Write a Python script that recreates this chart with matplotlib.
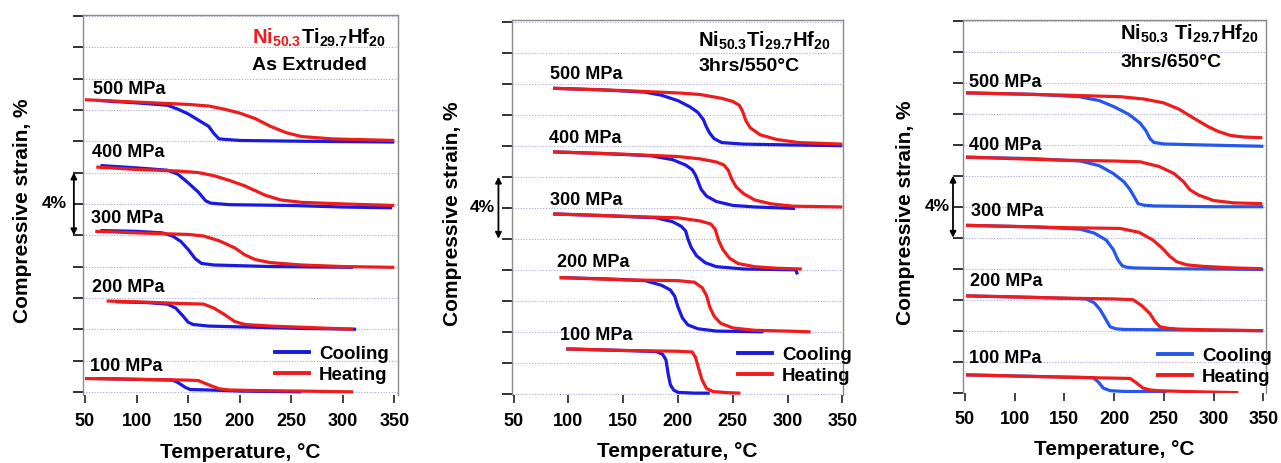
import matplotlib.pyplot as plt
from matplotlib.lines import Line2D

plt.rcParams['font.family'] = ['Liberation Sans', 'DejaVu Sans']
plt.rcParams['font.weight'] = 'bold'
plt.rcParams['mathtext.fontset'] = 'custom'
plt.rcParams['mathtext.rm'] = 'Liberation Sans:bold'
plt.rcParams['mathtext.bf'] = 'Liberation Sans:bold'
plt.rcParams['mathtext.it'] = 'Liberation Sans:bold'

# data: temperature (C) -> compressive strain (%), curves offset per stress
pressures = [500, 400, 300, 200, 100]

# as extruded
ext_cool = {
    500: ([64, 100, 130, 140, 150, 160, 170, 175, 180, 200, 260, 350],
          [18.6, 18.45, 18.3, 18.05, 17.75, 17.35, 16.95, 16.5, 16.15, 16.05, 16.0, 15.95]),
    400: ([65, 100, 130, 140, 150, 160, 167, 172, 190, 250, 300, 348],
          [14.45, 14.3, 14.15, 13.9, 13.35, 12.75, 12.2, 12.05, 11.95, 11.9, 11.8, 11.75]),
    300: ([65, 100, 125, 135, 143, 150, 157, 163, 175, 230, 310],
          [10.3, 10.25, 10.15, 9.95, 9.6, 9.1, 8.5, 8.2, 8.1, 8.0, 7.95]),
    200: ([80, 110, 130, 138, 145, 150, 155, 170, 200, 260, 313],
          [5.75, 5.7, 5.6, 5.35, 4.85, 4.45, 4.3, 4.2, 4.15, 4.05, 4.0]),
    100: ([62, 100, 135, 140, 147, 152, 170, 200, 260],
          [0.85, 0.8, 0.75, 0.6, 0.3, 0.15, 0.12, 0.05, 0.0]),
}
ext_heat = {
    500: ([50, 100, 150, 170, 185, 200, 215, 230, 245, 260, 290, 350],
          [18.65, 18.5, 18.35, 18.25, 18.05, 17.8, 17.45, 16.95, 16.55, 16.3, 16.15, 16.05]),
    400: ([61, 100, 140, 160, 175, 190, 205, 215, 225, 240, 260, 300, 350],
          [14.35, 14.2, 14.1, 14.0, 13.8, 13.5, 13.15, 12.85, 12.55, 12.25, 12.1, 12.0, 11.9]),
    300: ([60, 100, 150, 165, 180, 195, 205, 215, 230, 260, 300, 350],
          [10.25, 10.15, 10.05, 9.95, 9.65, 9.2, 8.75, 8.45, 8.25, 8.1, 8.0, 7.95]),
    200: ([71, 100, 140, 165, 175, 185, 195, 205, 230, 270, 310],
          [5.8, 5.75, 5.65, 5.6, 5.35, 4.95, 4.5, 4.3, 4.2, 4.1, 4.0]),
    100: ([50, 100, 150, 160, 170, 180, 190, 220, 260, 310],
          [0.85, 0.8, 0.75, 0.72, 0.45, 0.2, 0.12, 0.08, 0.05, 0.0]),
}

# 3 hrs / 550 C
t550_cool = {
    500: ([86, 130, 170, 185, 200, 211, 218, 223, 226, 229, 233, 240, 260, 300, 350],
          [19.7, 19.6, 19.45, 19.25, 18.9, 18.5, 18.15, 17.7, 17.2, 16.8, 16.45, 16.2, 16.1, 16.05, 16.0]),
    400: ([86, 130, 175, 195, 207, 213, 216, 218, 221, 226, 235, 250, 270, 307],
          [15.6, 15.5, 15.35, 15.1, 14.75, 14.45, 14.1, 13.75, 13.2, 12.75, 12.4, 12.15, 12.05, 11.95]),
    300: ([86, 130, 180, 195, 203, 207, 209, 212, 217, 225, 235, 260, 307, 308, 309],
          [11.6, 11.5, 11.35, 11.1, 10.8, 10.5, 10.0, 9.45, 8.9, 8.45, 8.2, 8.05, 8.0, 7.9, 7.7]),
    200: ([92, 140, 170, 185, 193, 197, 200, 204, 209, 218, 235, 278],
          [7.5, 7.4, 7.3, 7.0, 6.7, 6.3, 5.6, 4.9, 4.45, 4.2, 4.05, 4.0]),
    100: ([98, 150, 180, 186, 189, 191, 193, 196, 200, 215, 229],
          [2.9, 2.8, 2.73, 2.55, 2.2, 1.3, 0.6, 0.25, 0.1, 0.05, 0.05]),
}
t550_heat = {
    500: ([86, 150, 200, 220, 240, 250, 256, 259, 262, 266, 275, 290, 310, 350],
          [19.7, 19.55, 19.4, 19.3, 19.05, 18.85, 18.6, 18.2, 17.6, 17.15, 16.7, 16.4, 16.2, 16.1]),
    400: ([86, 150, 200, 220, 235, 242, 246, 249, 253, 260, 270, 285, 305, 350],
          [15.6, 15.45, 15.3, 15.15, 14.95, 14.75, 14.4, 13.85, 13.35, 12.9, 12.5, 12.25, 12.1, 12.05]),
    300: ([86, 150, 200, 220, 230, 234, 237, 241, 247, 255, 270, 290, 313],
          [11.6, 11.45, 11.35, 11.15, 10.95, 10.6, 9.9, 9.3, 8.75, 8.4, 8.2, 8.1, 8.05]),
    200: ([92, 150, 200, 215, 222, 226, 229, 233, 239, 250, 270, 300, 321],
          [7.5, 7.35, 7.3, 7.2, 6.85, 6.35, 5.6, 5.0, 4.55, 4.25, 4.1, 4.05, 4.0]),
    100: ([98, 150, 200, 213, 216, 219, 222, 226, 232, 245, 257],
          [2.9, 2.8, 2.75, 2.7, 2.35, 1.6, 0.9, 0.35, 0.15, 0.08, 0.05]),
}

# 3 hrs / 650 C
t650_cool = {
    500: ([51, 120, 165, 185, 200, 215, 226, 232, 236, 240, 250, 280, 350],
          [19.35, 19.25, 19.1, 18.85, 18.45, 17.95, 17.4, 16.9, 16.4, 16.15, 16.05, 16.0, 15.9]),
    400: ([51, 120, 166, 185, 199, 210, 216, 221, 224, 230, 240, 300, 350],
          [15.2, 15.1, 14.95, 14.65, 14.15, 13.6, 13.1, 12.55, 12.2, 12.1, 12.05, 12.0, 12.0]),
    300: ([51, 120, 166, 180, 192, 199, 204, 208, 212, 220, 260, 350],
          [10.8, 10.7, 10.55, 10.3, 9.85, 9.25, 8.55, 8.2, 8.1, 8.05, 8.0, 7.95]),
    200: ([51, 120, 172, 180, 186, 191, 196, 202, 210, 260, 350],
          [6.25, 6.15, 6.05, 5.8, 5.35, 4.8, 4.25, 4.12, 4.08, 4.05, 4.0]),
    100: ([51, 120, 179, 184, 189, 196, 210, 253],
          [1.15, 1.05, 0.97, 0.7, 0.3, 0.13, 0.08, 0.06]),
}
t650_heat = {
    500: ([51, 150, 206, 230, 250, 265, 283, 295, 305, 317, 330, 349],
          [19.35, 19.2, 19.1, 18.95, 18.7, 18.3, 17.6, 17.15, 16.85, 16.6, 16.5, 16.45]),
    400: ([51, 150, 200, 226, 245, 260, 270, 276, 285, 300, 320, 349],
          [15.2, 15.0, 14.95, 14.9, 14.6, 14.15, 13.6, 13.1, 12.75, 12.4, 12.25, 12.2]),
    300: ([51, 150, 206, 225, 239, 248, 256, 263, 273, 290, 320, 349],
          [10.8, 10.65, 10.6, 10.35, 9.85, 9.35, 8.8, 8.45, 8.25, 8.15, 8.05, 8.0]),
    200: ([51, 150, 200, 219, 228, 236, 241, 246, 255, 266, 300, 349],
          [6.25, 6.1, 6.05, 6.0, 5.6, 5.1, 4.6, 4.25, 4.15, 4.1, 4.05, 4.0]),
    100: ([51, 150, 216, 222, 229, 236, 243, 270, 325],
          [1.15, 1.0, 0.92, 0.65, 0.3, 0.18, 0.13, 0.08, 0.0]),
}

# where the "xxx MPa" labels sit (T, strain)
ext_lbl = [(58, 19.0), (57, 15.0), (56, 10.8), (57, 6.35), (55, 1.35)]
t550_lbl = [(83, 20.3), (82, 16.2), (83, 12.2), (90, 8.2), (92, 3.45)]
t650_lbl = [(54, 19.7), (54, 15.65), (56, 11.4), (55, 6.9), (54, 1.9)]

xticks = [50, 100, 150, 200, 250, 300, 350]

RED = '#ee1c1c'
BLUE = '#1a1ae0'

fig = plt.figure(figsize=(12.81, 4.63), dpi=100)

W, H = 1281, 463
# pixel boxes of the three panels: left, top, right, bottom
boxes = [(83, 15, 398, 395), (512, 20, 843, 395), (963, 20, 1266, 393)]
xlims = [(48.1, 353.6), (48.5, 350.6), (48.0, 352.7)]
ylims = [(-0.2, 24.06), (-0.07, 24.1), (-0.02, 24.05)]
cools = [ext_cool, t550_cool, t650_cool]
heats = [ext_heat, t550_heat, t650_heat]
lbls = [ext_lbl, t550_lbl, t650_lbl]
blues = [BLUE, BLUE, '#2457f0']
subtitles = ['As Extruded', '3hrs/550°C', '3hrs/650°C']
title_pos = [(211.6, 22.25, 20.55), (218.7, 22.4, 20.8), (206, 22.75, 21.0)]
arrow_x = [-0.029, -0.041, -0.033]
pct_x = [-0.09, -0.089, -0.084]
ylab_x = [-0.162, -0.152, -0.158]
leg_anchor = [(0.61, 0.03), (0.683, 0.027), (0.644, 0.02)]

for i in range(3):
    l, t, r, b = boxes[i]
    ax = fig.add_axes([l / W, 1 - b / H, (r - l) / W, (b - t) / H])
    ax.set_xlim(*xlims[i])
    ax.set_ylim(*ylims[i])

    for p in pressures:
        T, s = cools[i][p]
        ax.plot(T, s, color=blues[i], lw=2.3, solid_capstyle='butt')
    for p in pressures:
        T, s = heats[i][p]
        ax.plot(T, s, color=RED, lw=2.3, solid_capstyle='butt')

    for p, (tx, ty) in zip(pressures, lbls[i]):
        ax.text(tx, ty, f'{p} MPa', fontsize=13, fontweight='bold', va='baseline')

    # alloy name + condition
    tx, ty1, ty2 = title_pos[i]
    if i == 0:
        t1 = ax.text(tx, ty1, r'$\mathbf{Ni_{50.3}}$', fontsize=14.5, color=RED, va='baseline')
        ax.annotate(r'$\mathbf{Ti_{29.7}Hf_{20}}$', xy=(1, 0), xycoords=t1,
                    fontsize=14.5, va='bottom', ha='left')
    elif i == 1:
        ax.text(tx, ty1, r'$\mathbf{Ni_{50.3}Ti_{29.7}Hf_{20}}$', fontsize=14.5, va='baseline')
    else:
        ax.text(tx, ty1, r'$\mathbf{Ni_{50.3}\ Ti_{29.7}Hf_{20}}$', fontsize=14.5, va='baseline')
    ax.text(tx, ty2, subtitles[i], fontsize=14, fontweight='bold', va='baseline')

    # axes styling
    ax.set_yticks(range(0, 25, 2))
    ax.set_yticklabels([])
    ax.yaxis.grid(True, color='#a8a8d8', lw=0.8, ls=(0, (1, 1.5)))
    ax.set_axisbelow(True)
    ax.tick_params(axis='y', direction='out', length=7.5, width=1.3, color='#222222')
    ax.set_xticks(xticks)
    ax.tick_params(axis='x', direction='out', length=6, width=1.3, color='#333333',
                   labelsize=13, pad=7)
    for lab in ax.get_xticklabels():
        lab.set_fontweight('bold')
    for sp in ['left', 'top', 'right']:
        ax.spines[sp].set_color('#8a8a8a')
        ax.spines[sp].set_linewidth(1.0)
    ax.spines['bottom'].set_visible(False)

    ax.set_xlabel('Temperature, °C', fontsize=15, fontweight='bold')
    ax.xaxis.set_label_coords(0.5, -0.125)
    ax.set_ylabel('Compressive strain, %', fontsize=15, fontweight='bold')
    ax.yaxis.set_label_coords(ylab_x[i], 0.484)

    # 4 % scale arrow
    trans = ax.get_yaxis_transform()
    ax.annotate('', xy=(arrow_x[i], 10), xytext=(arrow_x[i], 14), xycoords=trans,
                textcoords=trans, annotation_clip=False,
                arrowprops=dict(arrowstyle='<|-|>', color='black', lw=1.3,
                                mutation_scale=9, shrinkA=0, shrinkB=0))
    ax.text(pct_x[i], 12, '4%', transform=trans, fontsize=12.5, fontweight='bold',
            ha='center', va='center')

    handles = [Line2D([], [], color=blues[i], lw=2.8), Line2D([], [], color=RED, lw=2.8)]
    ax.legend(handles, ['Cooling', 'Heating'], loc='lower left', bbox_to_anchor=leg_anchor[i],
              frameon=False, handlelength=1.8, handletextpad=0.55, borderpad=0,
              borderaxespad=0, labelspacing=0.2, prop={'weight': 'bold', 'size': 13.5})

fig.savefig('out.png', dpi=100)
